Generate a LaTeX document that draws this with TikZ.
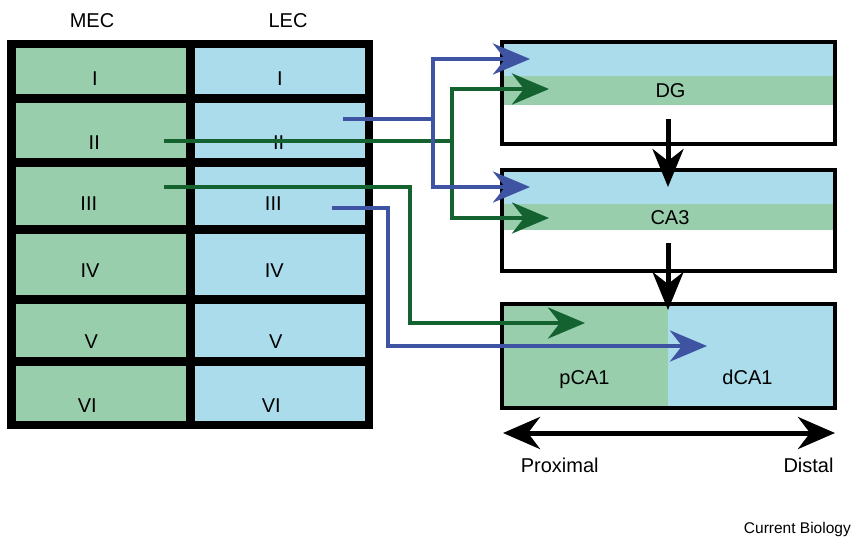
\documentclass[tikz,border=0pt]{standalone}
\usepackage{fontspec}
\setmainfont{Liberation Sans}
\usetikzlibrary{arrows.meta}
\definecolor{cellgreen}{RGB}{152,206,172}
\definecolor{cellblue}{RGB}{170,220,236}
\definecolor{linegreen}{RGB}{19,98,48}
\definecolor{lineblue}{RGB}{63,83,163}
\tikzset{
  lbl/.style={anchor=base,inner sep=0pt,font=\fontsize{20}{24}\selectfont},
  gline/.style={draw=linegreen,line width=4.5pt,-{Stealth[length=37pt,width=31pt,inset=12pt]}},
  bline/.style={draw=lineblue,line width=4.5pt,-{Stealth[length=37pt,width=31pt,inset=12pt]}},
  gseg/.style={draw=linegreen,line width=4.5pt},
  bseg/.style={draw=lineblue,line width=4.5pt},
  kline/.style={draw=black,line width=5pt,-{Stealth[length=38pt,width=31pt,inset=12pt]}},
  regbox/.style={draw=black,line width=4pt,inner sep=0pt,minimum width=333pt},
}
\begin{document}
\begin{tikzpicture}[x=1pt,y=-1pt]
\useasboundingbox (0,0) rectangle (853,536);
% ---- entorhinal grid ----
\fill[black] (7,40) rectangle (373,429);
\foreach \ya/\yb in {48/94,103/158,167/225,234/295,304/357,366/421}{
  \fill[cellgreen] (16,\ya) rectangle (186,\yb);
  \fill[cellblue] (195,\ya) rectangle (365,\yb);
}
\node[lbl] (mec) at (92,27) {MEC};
\node[lbl] (lec) at (288,27) {LEC};
\node[lbl] (m1) at (95,85) {I};
\node[lbl] (m2) at (94.3,149) {II};
\node[lbl] (m3) at (88.8,210) {III};
\node[lbl] (m4) at (90,277) {IV};
\node[lbl] (m5) at (91.3,348) {V};
\node[lbl] (m6) at (87.2,412) {VI};
\node[lbl] (l1) at (280,85) {I};
\node[lbl] (l2) at (278.7,149) {II};
\node[lbl] (l3) at (273.3,210) {III};
\node[lbl] (l4) at (274.3,277) {IV};
\node[lbl] (l5) at (275.7,348) {V};
\node[lbl] (l6) at (271.2,412) {VI};
% ---- hippocampal boxes ----
\fill[cellblue] (502,42) rectangle (835,76);
\fill[cellgreen] (502,76) rectangle (835,105);
\fill[cellblue] (502,170) rectangle (835,204);
\fill[cellgreen] (502,204) rectangle (835,230);
\fill[cellgreen] (502,304) rectangle (668,408);
\fill[cellblue] (668,304) rectangle (835,408);
\node[regbox,minimum height=102pt] (dgbox) at (668.5,93) {};
\node[regbox,minimum height=101pt] (ca3box) at (668.5,220.5) {};
\node[regbox,minimum height=104pt] (ca1box) at (668.5,356) {};
\node[lbl] (dg) at (670.5,97) {DG};
\node[lbl] (ca3) at (670,224) {CA3};
\node[lbl] (pca1) at (584.5,384) {pCA1};
\node[lbl] (dca1) at (747.5,384) {dCA1};
\node[lbl] (prox) at (559.7,472) {Proximal};
\node[lbl] (dist) at (808.5,472) {Distal};
\node[anchor=base east,inner sep=0pt,font=\fontsize{15.5}{18}\selectfont] (cb) at (851,533) {Current Biology};
% ---- coordinates ----
\coordinate (dgout) at (668,119);
\coordinate (ca3in) at (668,187);
\coordinate (ca3out) at (668,243);
\coordinate (ca1in) at (668,310);
\coordinate (pl) at (503,433);
\coordinate (pr) at (835,433);
\coordinate (lec2s) at (343,119);
\coordinate (bj) at (433,119);
\coordinate (dgb) at (530,59);
\coordinate (ca3b) at (530,187);
\coordinate (mec2s) at (164,141);
\coordinate (gj) at (452,141);
\coordinate (dgg) at (549,89);
\coordinate (ca3g) at (549,218);
\coordinate (mec3s) at (164,187);
\coordinate (g3a) at (410,187);
\coordinate (g3b) at (410,323);
\coordinate (pca1g) at (585,323);
\coordinate (lec3s) at (332,208);
\coordinate (b3a) at (388,208);
\coordinate (b3b) at (388,346);
\coordinate (dca1b) at (707,346);
% ---- black arrows ----
\draw[kline] (dgout) -- (ca3in);
\draw[kline] (ca3out) -- (ca1in);
\draw[draw=black,line width=5pt,{Stealth[length=37pt,width=32pt,inset=12pt]}-{Stealth[length=37pt,width=32pt,inset=12pt]}] (pl) -- (pr);
% ---- projections ----
\draw[gseg] (mec2s) -- (gj);
\draw[gline] (gj) |- (dgg);
\draw[gline] (gj) |- (ca3g);
\draw[bseg] (lec2s) -- (bj);
\draw[bline] (bj) |- (dgb);
\draw[bline] (bj) |- (ca3b);
\draw[gline] (mec3s) -- (g3a) -- (g3b) -- (pca1g);
\draw[bline] (lec3s) -- (b3a) -- (b3b) -- (dca1b);
\end{tikzpicture}
\end{document}
